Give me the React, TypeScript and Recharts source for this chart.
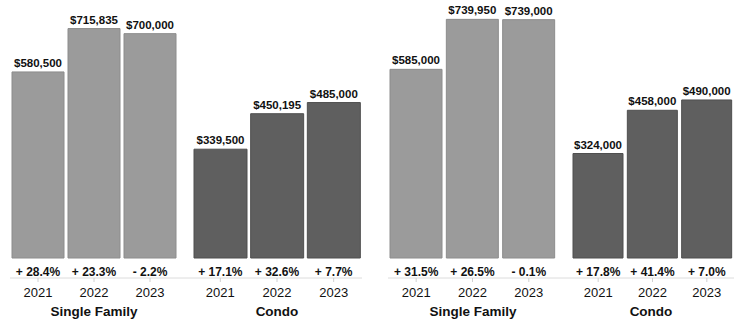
import { BarChart, Bar, XAxis, YAxis, LabelList, Label } from "recharts"

const years = ["2021", "2022", "2023"]

const leftSingleFamily = [580500, 715835, 700000]
const leftSingleFamilyChange = ["+ 28.4%", "+ 23.3%", "- 2.2%"]
const leftCondo = [339500, 450195, 485000]
const leftCondoChange = ["+ 17.1%", "+ 32.6%", "+ 7.7%"]

const rightSingleFamily = [585000, 739950, 739000]
const rightSingleFamilyChange = ["+ 31.5%", "+ 26.5%", "- 0.1%"]
const rightCondo = [324000, 458000, 490000]
const rightCondoChange = ["+ 17.8%", "+ 41.4%", "+ 7.0%"]

const FONT = '"Liberation Sans", Arial, sans-serif'
const INK = "#111"
const HEIGHT = 325

const toRows = (values: number[], changes: string[]) =>
  years.map((year, i) => ({ year, value: values[i], change: changes[i] }))

const money = (v: any) => "$" + Number(v).toLocaleString("en-US")

type GroupProps = {
  name: string
  values: number[]
  changes: string[]
  fill: string
  stroke: string
  left: number
  width: number
  marginLeft: number
  marginRight: number
  padLeft: number
  padRight: number
  labelDx: number
  yMax: number
}

function Group(p: GroupProps) {
  const data = toRows(p.values, p.changes)
  const padding = { left: p.padLeft, right: p.padRight }
  return (
    <div style={{ position: "absolute", left: p.left, top: 0, width: p.width, height: HEIGHT }}>
      <BarChart
        width={p.width}
        height={HEIGHT}
        data={data}
        margin={{ top: 0, right: p.marginRight, bottom: 0, left: p.marginLeft }}
        barCategoryGap={2}
      >
        <YAxis hide domain={[0, p.yMax]} />
        <XAxis
          xAxisId="pct"
          dataKey="change"
          height={20}
          axisLine={false}
          tickLine={false}
          tickSize={0}
          tickMargin={9}
          padding={padding}
          interval={0}
          tick={{ fill: INK, fontSize: 12, fontWeight: 700, fontFamily: FONT }}
        />
        <XAxis
          xAxisId="year"
          dataKey="year"
          height={47}
          axisLine={{ stroke: "#dcdcdc" }}
          tickLine={{ stroke: "#d0d0d0" }}
          tickSize={4}
          tickMargin={6}
          padding={padding}
          interval={0}
          tick={{ fill: INK, fontSize: 13, fontFamily: FONT }}
        >
          <Label
            value={p.name}
            position="insideBottom"
            offset={9}
            dx={p.labelDx}
            style={{ fill: INK, fontSize: 13.5, fontWeight: 700, fontFamily: FONT }}
          />
        </XAxis>
        <Bar xAxisId="year" dataKey="value" fill={p.fill} stroke={p.stroke} strokeWidth={1} isAnimationActive={false}>
          <LabelList
            dataKey="value"
            position="top"
            offset={5}
            formatter={money}
            style={{ fill: INK, fontSize: 11.5, fontWeight: 700, fontFamily: FONT }}
          />
        </Bar>
      </BarChart>
    </div>
  )
}

const SF_FILL = "#9b9b9b"
const SF_STROKE = "#8c8c8c"
const CONDO_FILL = "#5f5f5f"
const CONDO_STROKE = "#4f4f4f"

export default function App() {
  return (
    <div style={{ position: "absolute", left: 0, top: 0, width: 734, height: HEIGHT, overflow: "hidden", background: "#fff" }}>
      <Group name="Single Family" values={leftSingleFamily} changes={leftSingleFamilyChange}
        fill={SF_FILL} stroke={SF_STROKE} left={0} width={185} marginLeft={10} marginRight={0}
        padLeft={0} padRight={7} labelDx={-3.5} yMax={805000} />
      <Group name="Condo" values={leftCondo} changes={leftCondoChange}
        fill={CONDO_FILL} stroke={CONDO_STROKE} left={185} width={180} marginLeft={0} marginRight={3}
        padLeft={7} padRight={0} labelDx={3.5} yMax={805000} />
      <Group name="Single Family" values={rightSingleFamily} changes={rightSingleFamilyChange}
        fill={SF_FILL} stroke={SF_STROKE} left={370} width={194} marginLeft={18} marginRight={0}
        padLeft={0} padRight={7} labelDx={-3} yMax={800000} />
      <Group name="Condo" values={rightCondo} changes={rightCondoChange}
        fill={CONDO_FILL} stroke={CONDO_STROKE} left={564} width={170} marginLeft={0} marginRight={0}
        padLeft={7} padRight={0} labelDx={2} yMax={800000} />
    </div>
  )
}
